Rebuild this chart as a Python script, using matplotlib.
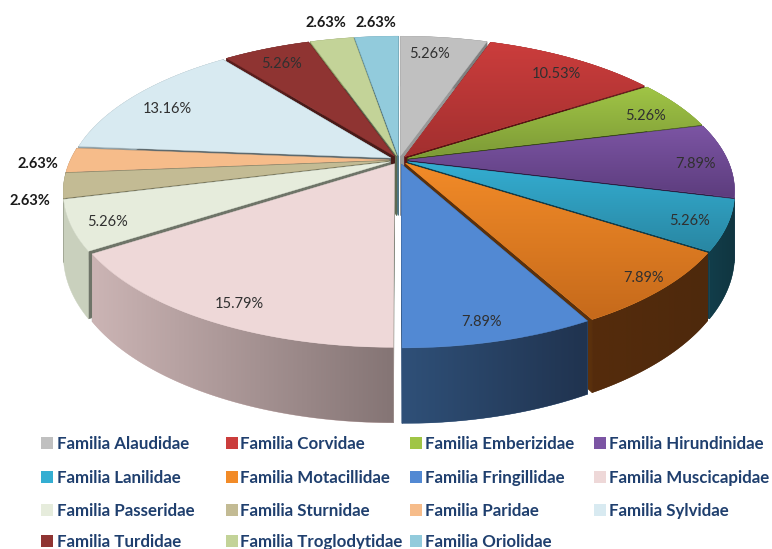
#!/usr/bin/env python3
"""
Exploded 3D style pie of bird families, drawn in pixel coordinates.
"""

import matplotlib
matplotlib.use('Agg')
import matplotlib.pyplot as plt
import matplotlib.colors as mcolors
from matplotlib.patches import Polygon, Rectangle
import numpy as np

families = ['Alaudidae', 'Corvidae', 'Emberizidae', 'Hirundinidae', 'Lanilidae',
            'Motacillidae', 'Fringillidae', 'Muscicapidae', 'Passeridae', 'Sturnidae',
            'Paridae', 'Sylvidae', 'Turdidae', 'Troglodytidae', 'Oriolidae']
percent = [5.26, 10.53, 5.26, 7.89, 5.26, 7.89, 7.89, 15.79, 5.26, 2.63, 2.63,
           13.16, 5.26, 2.63, 2.63]

# top colour (upper end, lower end), wall colour (left end, right end), cut face
top_a = ['#c0c0c0', '#cb3d3c', '#a0c546', '#7c55a4', '#34aed2', '#f28b28', '#5289d3',
         '#eed8d8', '#e6ecdc', '#c3bb94', '#f6bc8a', '#d8eaf1', '#8f3432', '#c3d398', '#92cbdc']
top_b = ['#c0c0c0', '#a22f2f', '#7d9a36', '#5d3d7e', '#2987a3', '#c66a1b', '#5289d3',
         '#eed8d8', '#e6ecdc', '#c3bb94', '#f6bc8a', '#d8eaf1', '#8f3432', '#c3d398', '#92cbdc']
wall_a = ['#808080', '#6a1f1f', '#55682a', '#3f2a58', '#123d4a', '#552c0c', '#2f5078',
          '#cbb4b4', '#c9d0bd', '#84805f', '#a87f5c', '#93a4ab', '#5a1d1c', '#87935f', '#5f8f9f']
wall_b = ['#808080', '#6a1f1f', '#55682a', '#3f2a58', '#103540', '#4e290c', '#20334f',
          '#857575', '#c9d0bd', '#84805f', '#a87f5c', '#93a4ab', '#5a1d1c', '#87935f', '#5f8f9f']
cut = ['#989898', '#5a1414', '#3c4d18', '#2e1e45', '#123d4a', '#5a300c', '#2f5078',
       '#70786c', '#6e7468', '#5f5c40', '#5e6a6e', '#5e6a6e', '#4a1a18', '#5e6a50', '#4e7684']

# label centres in pixels
label_xy = [(430, 54), (556, 74), (646, 116), (695, 164), (690, 221), (644, 278),
            (481, 322), (239, 304), (108, 222), (30, 201), (38, 164), (167, 109),
            (282, 64), (326, 23), (376, 23)]
outside = [False] * 9 + [True, True, False, False, True, True]

# pie geometry
cx, cy = 399, 160
R, squash, persp = 319, 145, 0.2
depth = 60
explode = 0.03

legend_x = [41, 226, 410, 594]
legend_text_x = [57, 240, 425, 609]
legend_y = [443, 477, 510, 541]

fig = plt.figure(figsize=(7.72, 5.49), dpi=100)
ax = fig.add_axes([0, 0, 1, 1])


def project(u, v):
    f = 1 / (1 - persp * v)
    return cx + R * u * f, cy + squash * v * f, depth * f


def draw_shaded(xs, ys, c1, c2, z, vertical=True):
    poly = Polygon(np.column_stack([xs, ys]), closed=True, fc=c1, ec=c1, lw=0.3, zorder=z)
    ax.add_patch(poly)
    if c1 == c2:
        return
    grad = np.linspace(0, 1, 64)
    grad = grad[:, None, None] if vertical else grad[None, :, None]
    img = np.array(mcolors.to_rgb(c1)) * (1 - grad) + np.array(mcolors.to_rgb(c2)) * grad
    im = ax.imshow(img, extent=[xs.min(), xs.max(), ys.max(), ys.min()], aspect='auto',
                   zorder=z, interpolation='bilinear')
    im.set_clip_path(poly)


edges = np.concatenate([[0], np.cumsum(percent)]) / np.sum(percent) * 2 * np.pi
mids = (edges[:-1] + edges[1:]) / 2

# back slices first so the front ones paint over them
order = np.argsort(-np.cos(mids))
for z, i in enumerate(order):
    z = 2 + z * 0.1
    ox, oy = explode * np.sin(mids[i]), -explode * np.cos(mids[i])
    t = np.linspace(edges[i], edges[i + 1], 60)
    u, v = ox + np.sin(t), oy - np.cos(t)
    x, y, h = project(u, v)
    ax_, ay_, ah_ = project(ox, oy)

    # cut faces between apex and rim
    for k in (0, -1):
        face = [(ax_, ay_), (x[k], y[k]), (x[k], y[k] + h[k]), (ax_, ay_ + ah_)]
        ax.add_patch(Polygon(face, closed=True, fc=cut[i], ec=cut[i], lw=0.5, zorder=z))

    # outer wall, shaded from left to right
    wx = np.r_[x, x[::-1]]
    wy = np.r_[y, (y + h)[::-1]]
    draw_shaded(wx, wy, wall_a[i], wall_b[i], z + 0.01, vertical=False)

    draw_shaded(np.r_[ax_, x], np.r_[ay_, y], top_a[i], top_b[i], z + 0.02)

for i, (lx, ly) in enumerate(label_xy):
    txt = f'{percent[i]:.2f}%'
    if outside[i]:
        ax.text(lx, ly, txt, ha='center', va='center', fontsize=10.5, family='Lato',
                fontweight='bold', color='#1a1a1a', zorder=10)
    else:
        ax.text(lx, ly, txt, ha='center', va='center', fontsize=10.5, family='Lato',
                color='#303030', zorder=10)

for i, name in enumerate(families):
    row, col = divmod(i, 4)
    ax.add_patch(Rectangle((legend_x[col], legend_y[row] - 6), 12, 12, fc=top_a[i],
                           ec='none', zorder=5))
    ax.text(legend_text_x[col], legend_y[row] + 1, f'Familia {name}', ha='left', va='center',
            fontsize=12.2, family='Lato', fontweight='bold', color='#1f3f6e', zorder=5)

ax.set_xlim(0, 772)
ax.set_ylim(549, 0)
ax.axis('off')

plt.savefig('out.png', dpi=100)
plt.close()
